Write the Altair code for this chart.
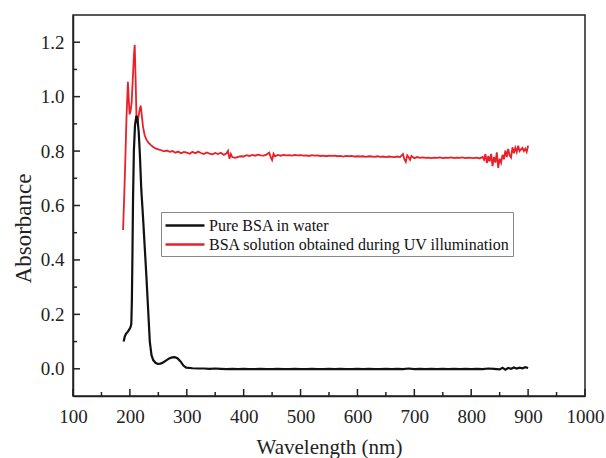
import altair as alt
import pandas as pd

black_name = "Pure BSA in water"
red_name = "BSA solution obtained during UV illumination"

black_nm = [189, 191, 193, 195, 197, 199, 201, 202.5, 203.5, 204.5, 205.5, 207, 209, 211.5,
            213.5, 215.5, 217.5, 220, 223, 226, 229, 232, 235, 238, 241, 245, 249, 254, 259,
            264, 269, 274, 279, 284, 289, 294, 299,
            310, 320, 330, 340, 350, 360, 370, 380, 390, 400, 410, 420, 430, 440, 450, 460,
            470, 480, 490, 500, 510, 520, 530, 540, 550, 560, 570, 580, 590, 600, 610, 620,
            630, 640, 650, 660, 670, 680, 690, 700, 710, 720, 730, 740, 750, 760, 770, 780,
            790, 800, 810, 820, 830, 840, 850, 855, 860, 865, 870, 875, 880, 885, 890, 895, 900]
black_abs = [0.100, 0.118, 0.128, 0.133, 0.138, 0.145, 0.152, 0.165, 0.25, 0.42, 0.62, 0.80, 0.895, 0.930,
             0.915, 0.87, 0.79, 0.66, 0.56, 0.45, 0.34, 0.22, 0.10, 0.05, 0.032, 0.022, 0.018, 0.019, 0.024,
             0.031, 0.038, 0.042, 0.043, 0.038, 0.027, 0.012, 0.004,
             0.002, 0.001, 0.001, 0.000, 0.001, 0.000, -0.001, 0.000, -0.001, 0.000, -0.001, -0.001, 0.000, -0.001, -0.001, 0.000,
             -0.001, -0.001, 0.000, -0.001, -0.001, 0.000, -0.001, -0.001, 0.000, -0.001, 0.000, -0.001, -0.001, 0.000, -0.001, 0.000,
             -0.001, -0.001, 0.000, -0.001, 0.000, -0.001, 0.001, -0.001, 0.000, -0.001, 0.000, -0.001, 0.000, -0.001, 0.000, -0.001,
             0.000, -0.001, 0.000, -0.001, 0.001, 0.000, -0.002, 0.004, -0.003, 0.003, 0.000, 0.005, 0.001, 0.004, 0.002, 0.006, 0.003]

red_nm = [188, 190, 192, 194, 196.5, 198, 199.5, 201, 203, 205, 207, 208.5, 210, 211.5, 213, 215, 217, 219,
          221, 223, 226, 229, 233, 237, 241, 245, 250, 255, 260, 265, 270, 275, 280, 285, 290, 295, 300,
          305, 310, 315, 320, 325, 330, 335, 340, 345, 350, 355, 360, 365, 370, 372.5, 375, 377.5, 380,
          385, 390, 395, 400, 405, 410, 415, 420, 425, 430, 435, 440, 445, 447.5, 450, 452.5, 455, 460,
          465, 470, 475, 480, 485, 490, 495, 500, 505, 510, 515, 520, 525, 530, 535, 540, 545, 550, 555,
          560, 565, 570, 575, 580, 585, 590, 595, 600, 605, 610, 615, 620, 625, 630, 635, 640, 645, 650,
          655, 660, 665, 670, 675, 680, 682.5, 685, 687.5, 690, 692.5, 695, 700, 705, 710, 715, 720, 725,
          730, 735, 740, 745, 750, 755, 760, 765, 770, 775, 780, 785, 790, 795, 800, 805, 810, 815, 820,
          822.5, 825, 827.5, 830, 832.5, 835, 837.5, 840, 842.5, 845, 847.5, 850, 852.5, 855, 857.5, 860,
          862.5, 865, 867.5, 870, 872.5, 875, 877.5, 880, 882.5, 885, 887.5, 890, 892.5, 895, 897.5, 900]
red_abs = [0.51, 0.63, 0.77, 0.92, 1.055, 0.99, 0.935, 0.945, 0.975, 1.06, 1.15, 1.19, 1.07, 0.93, 0.905, 0.925, 0.95, 0.967,
           0.93, 0.89, 0.858, 0.842, 0.83, 0.822, 0.815, 0.81, 0.806, 0.803, 0.799, 0.802, 0.797, 0.800, 0.794, 0.798, 0.792, 0.797, 0.794,
           0.790, 0.797, 0.792, 0.798, 0.793, 0.789, 0.795, 0.791, 0.788, 0.793, 0.789, 0.794, 0.786, 0.792, 0.801, 0.772, 0.789, 0.778,
           0.775, 0.779, 0.781, 0.780, 0.785, 0.782, 0.786, 0.783, 0.787, 0.784, 0.783, 0.787, 0.794, 0.778, 0.767, 0.790, 0.781, 0.786,
           0.783, 0.786, 0.784, 0.785, 0.783, 0.786, 0.784, 0.785, 0.783, 0.784, 0.782, 0.785, 0.783, 0.784, 0.782, 0.783, 0.781, 0.783, 0.782,
           0.783, 0.781, 0.782, 0.780, 0.782, 0.781, 0.782, 0.780, 0.781, 0.780, 0.781, 0.779, 0.781, 0.780, 0.779, 0.781, 0.779, 0.780, 0.778,
           0.780, 0.779, 0.778, 0.780, 0.778, 0.789, 0.770, 0.760, 0.784, 0.777, 0.768, 0.782, 0.774, 0.778, 0.775, 0.777, 0.775, 0.776,
           0.774, 0.776, 0.775, 0.777, 0.774, 0.776, 0.775, 0.777, 0.774, 0.776, 0.775, 0.777, 0.774, 0.776, 0.775, 0.774, 0.776, 0.773, 0.778,
           0.768, 0.789, 0.756, 0.782, 0.762, 0.790, 0.745, 0.778, 0.758, 0.795, 0.738, 0.772, 0.757, 0.786, 0.770, 0.802,
           0.778, 0.808, 0.784, 0.776, 0.814, 0.792, 0.812, 0.796, 0.820, 0.800, 0.806, 0.812, 0.800, 0.809, 0.797, 0.820]

x_major = [100, 200, 300, 400, 500, 600, 700, 800, 900, 1000]
x_minor = [150, 250, 350, 450, 550, 650, 750, 850, 950]
y_major = [0.0, 0.2, 0.4, 0.6, 0.8, 1.0, 1.2]
y_minor = [0.1, 0.3, 0.5, 0.7, 0.9, 1.1]

df = pd.concat([
    pd.DataFrame({"nm": red_nm, "abs": red_abs, "series": red_name}),
    pd.DataFrame({"nm": black_nm, "abs": black_abs, "series": black_name}),
], ignore_index=True)

W, H = 512, 381
SERIF = "Liberation Serif, Times New Roman, Times, DejaVu Serif, serif"
AX = "#222222"

xs = alt.Scale(domain=[100, 1000], nice=False, zero=False)
ys = alt.Scale(domain=[-0.1, 1.3], nice=False, zero=False)

legend = alt.Legend(
    title=None, orient="none", legendX=88, legendY=197, direction="vertical",
    symbolType="M-1,0L3.33,0", symbolSize=324, symbolStrokeWidth=2.5,
    labelFont=SERIF, labelFontSize=16, labelColor="#111111", labelOffset=24, labelLimit=500,
    padding=3, rowPadding=0, strokeColor="#888888", fillColor="white", cornerRadius=0,
)
color = alt.Color(
    "series:N",
    scale=alt.Scale(domain=[black_name, red_name], range=["#111111", "#e8202a"]),
    legend=legend,
)

base = alt.Chart(df)

red_layer = base.transform_filter(alt.datum.series == red_name).mark_line(strokeWidth=1.8).encode(
    x=alt.X("nm:Q", scale=xs, axis=None),
    y=alt.Y("abs:Q", scale=ys, axis=None),
    color=color,
)

black_layer = base.transform_filter(alt.datum.series == black_name).mark_line(strokeWidth=2.2).encode(
    x=alt.X("nm:Q", scale=xs, axis=alt.Axis(
        orient="bottom", values=x_major, format="d", title="Wavelength (nm)", ticks=False, tickSize=0,
        labelPadding=11, labelFlush=False, labelOverlap=False, grid=False,
        domainColor=AX, domainWidth=1.5, labelFont=SERIF, labelFontSize=19, labelColor=AX,
        titleFont=SERIF, titleFontSize=21, titleFontWeight="normal", titleColor=AX,
        titleY=57, titleBaseline="alphabetic")),
    y=alt.Y("abs:Q", scale=ys, axis=alt.Axis(
        orient="left", values=y_major, format=".1f", title="Absorbance", ticks=False, tickSize=0,
        labelPadding=9, labelFlush=False, labelOverlap=False, grid=False,
        domainColor=AX, domainWidth=1.5, labelFont=SERIF, labelFontSize=19, labelColor=AX,
        titleFont=SERIF, titleFontSize=23, titleFontWeight="normal", titleColor=AX,
        titleX=-43, titleY=213, titleBaseline="alphabetic")),
    color=color,
)

def x_ticks(values, length):
    d = pd.DataFrame({"v": values})
    return alt.Chart(d).mark_rule(color=AX, strokeWidth=1.5).encode(
        x=alt.X("v:Q", scale=xs, axis=None),
        y=alt.value(H), y2=alt.value(H - length),
    )

def y_ticks(values, length):
    d = pd.DataFrame({"v": values})
    return alt.Chart(d).mark_rule(color=AX, strokeWidth=1.5).encode(
        y=alt.Y("v:Q", scale=ys, axis=None),
        x=alt.value(0), x2=alt.value(length),
    )

chart = alt.layer(
    red_layer, black_layer,
    x_ticks(x_major, 7), x_ticks(x_minor, 4),
    y_ticks(y_major, 7), y_ticks(y_minor, 4),
).resolve_axis(
    x="independent", y="independent"
).properties(
    width=W, height=H,
    autosize=alt.AutoSizeParams(type="none"),
    padding={"left": 73, "top": 15, "right": 21, "bottom": 62},
    background="white",
).configure_view(stroke=AX, strokeWidth=1.5)

chart.save("out.html", embed_options={"renderer": "svg", "actions": False})
